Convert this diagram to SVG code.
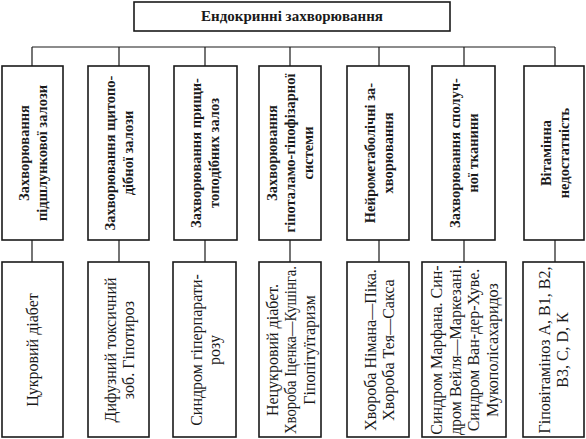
<svg xmlns="http://www.w3.org/2000/svg" width="586" height="439" viewBox="0 0 586 439">
<style>
.box{fill:#fff;stroke:#1a1a1a;stroke-width:1.6}
.con{fill:none;stroke:#1a1a1a;stroke-width:1.2}
.h{font-family:"Liberation Serif","Times New Roman",serif;font-weight:bold;font-size:14.5px;fill:#1a1a1a;text-anchor:middle}
.l{font-family:"Liberation Serif","Times New Roman",serif;font-size:16px;fill:#1a1a1a;text-anchor:middle}
.t{font-family:"Liberation Serif","Times New Roman",serif;font-weight:bold;font-size:15px;fill:#1a1a1a;text-anchor:middle}
</style>
<rect width="586" height="439" fill="#fff"/>
<g id="connectors">
<path class="con" d="M32,47H555M32,47V66M119,47V66M205,47V66M290,47V66M379,47V66M464,47V66M555,47V66"/>
<path class="con" d="M32,240V262M119,240V262M205,240V262M290,240V262M379,240V262M464,240V262M555,240V262"/>
</g>
<g id="root">
<rect class="box" x="134" y="2" width="316" height="29"/>
<text class="t" x="292" y="21">Ендокринні захворювання</text>
</g>
<g id="c1">
<rect class="box" x="2" y="66" width="61" height="174"/>
<text class="h" transform="translate(34,153) rotate(-90)"><tspan x="0" y="-5">Захворювання</tspan><tspan x="0" y="13">підшлункової залози</tspan></text>
</g>
<g id="c2">
<rect class="box" x="88" y="66" width="61" height="174"/>
<text class="h" transform="translate(120,153) rotate(-90)"><tspan x="0" y="-5">Захворювання щитопо-</tspan><tspan x="0" y="13">дібної залози</tspan></text>
</g>
<g id="c3">
<rect class="box" x="174" y="66" width="63" height="174"/>
<text class="h" transform="translate(206,153) rotate(-90)"><tspan x="0" y="-5">Захворювання прищи-</tspan><tspan x="0" y="13">топодібних залоз</tspan></text>
</g>
<g id="c4">
<rect class="box" x="259" y="66" width="62" height="174"/>
<text class="h" transform="translate(291,153) rotate(-90)"><tspan x="0" y="-14">Захворювання</tspan><tspan x="0" y="4">гіпоталамо-гіпофізарної</tspan><tspan x="0" y="22">системи</tspan></text>
</g>
<g id="c5">
<rect class="box" x="347" y="66" width="62" height="174"/>
<text class="h" transform="translate(380,153) rotate(-90)"><tspan x="0" y="-5">Нейрометаболічні за-</tspan><tspan x="0" y="13">хворювання</tspan></text>
</g>
<g id="c6">
<rect class="box" x="432" y="66" width="63" height="174"/>
<text class="h" transform="translate(465,153) rotate(-90)"><tspan x="0" y="-5">Захворювання сполуч-</tspan><tspan x="0" y="13">ної тканини</tspan></text>
</g>
<g id="c7">
<rect class="box" x="524" y="66" width="60" height="174"/>
<text class="h" transform="translate(556,153) rotate(-90)"><tspan x="0" y="-5">Вітамінна</tspan><tspan x="0" y="13">недостатність</tspan></text>
</g>
<g id="d1">
<rect class="box" x="2" y="262" width="61" height="175"/>
<text class="l" transform="translate(33,350) rotate(-90)"><tspan x="0" y="5">Цукровий діабет</tspan></text>
</g>
<g id="d2">
<rect class="box" x="88" y="262" width="61" height="175"/>
<text class="l" transform="translate(120,350) rotate(-90)"><tspan x="0" y="-4.25">Дифузний токсичний</tspan><tspan x="0" y="14.25">зоб. Гіпотироз</tspan></text>
</g>
<g id="d3">
<rect class="box" x="173" y="262" width="63" height="175"/>
<text class="l" transform="translate(206,350) rotate(-90)"><tspan x="0" y="-4.25">Синдром гіперпарати-</tspan><tspan x="0" y="14.25">розу</tspan></text>
</g>
<g id="d4">
<rect class="box" x="259" y="262" width="62" height="175"/>
<text class="l" transform="translate(291,350) rotate(-90)"><tspan x="0" y="-13.5">Нецукровий діабет.</tspan><tspan x="0" y="5" textLength="168" lengthAdjust="spacingAndGlyphs">Хвороба Іценка—Кушінга.</tspan><tspan x="0" y="23.5">Гіпопітуїтаризм</tspan></text>
</g>
<g id="d5">
<rect class="box" x="347" y="262" width="62" height="175"/>
<text class="l" transform="translate(380,350) rotate(-90)"><tspan x="0" y="-4.25">Хвороба Німана—Піка.</tspan><tspan x="0" y="14.25">Хвороба Тея—Сакса</tspan></text>
</g>
<g id="d6">
<rect class="box" x="422" y="262" width="84" height="175"/>
<text class="l" transform="translate(465,350) rotate(-90)"><tspan x="0" y="-22.75">Синдром Марфана. Син-</tspan><tspan x="0" y="-4.25">дром Вейля—Маркезані.</tspan><tspan x="0" y="14.25">Синдром Ван-дер-Хуве.</tspan><tspan x="0" y="32.75">Мукополісахаридоз</tspan></text>
</g>
<g id="d7">
<rect class="box" x="523" y="262" width="61" height="175"/>
<text class="l" transform="translate(554,350) rotate(-90)"><tspan x="0" y="-4.25">Гіповітаміноз А, В1, В2,</tspan><tspan x="0" y="14.25">В3, С, D, К</tspan></text>
</g>
</svg>
